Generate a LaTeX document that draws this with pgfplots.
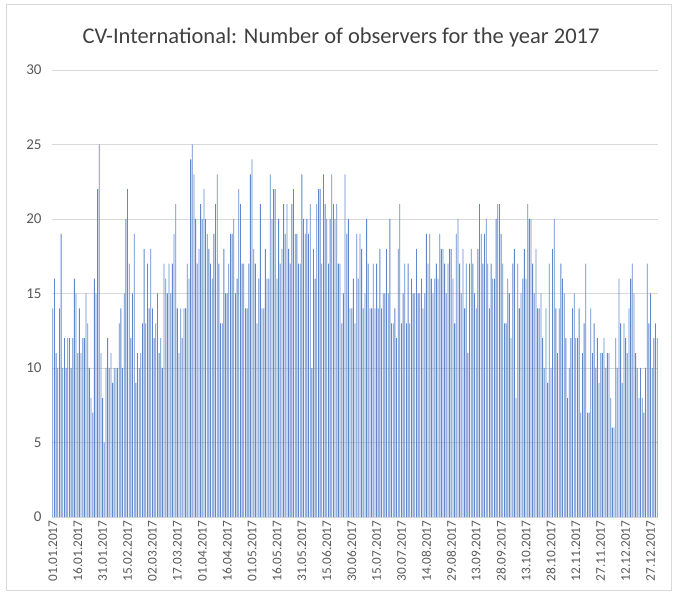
\documentclass[border=0pt]{standalone}
\usepackage{pgfplots}
\pgfplotsset{compat=1.18}
\usepackage{pgfplotstable}
\usepackage{fontspec}
\setmainfont{Carlito}
\definecolor{barblue}{HTML}{4472C4}
\definecolor{gridgray}{HTML}{D9D9D9}
\definecolor{txtgray}{HTML}{595959}
\definecolor{titlegray}{HTML}{404040}

% daily observer counts, 01.01.2017 .. 31.12.2017
\pgfplotstableread[row sep=\\]{
v\\
14\\16\\11\\10\\14\\19\\10\\12\\10\\12\\12\\10\\12\\16\\15\\11\\14\\11\\12\\12\\15\\13\\10\\8\\7\\16\\15\\22\\25\\11\\8\\5\\10\\12\\10\\11\\
9\\10\\10\\10\\13\\14\\10\\15\\20\\22\\17\\12\\15\\19\\9\\11\\10\\11\\13\\18\\13\\17\\14\\18\\14\\12\\13\\15\\11\\12\\10\\17\\16\\15\\17\\15\\
17\\19\\21\\14\\11\\14\\12\\14\\14\\17\\16\\24\\25\\23\\20\\17\\18\\21\\20\\22\\20\\19\\18\\17\\16\\19\\21\\23\\17\\13\\13\\18\\15\\15\\17\\19\\
19\\20\\15\\16\\22\\21\\17\\17\\14\\14\\17\\23\\24\\18\\17\\13\\16\\21\\14\\14\\18\\16\\16\\23\\20\\22\\22\\16\\20\\17\\18\\21\\19\\21\\18\\17\\21\\
22\\19\\19\\17\\17\\23\\20\\19\\20\\19\\21\\10\\18\\16\\21\\22\\22\\17\\23\\21\\20\\17\\20\\23\\21\\20\\21\\17\\17\\13\\15\\23\\19\\20\\14\\14\\
16\\13\\19\\16\\19\\18\\14\\15\\20\\17\\14\\14\\17\\14\\17\\14\\18\\14\\15\\15\\18\\15\\20\\13\\13\\14\\12\\18\\21\\13\\15\\17\\13\\17\\13\\16\\15\\
15\\18\\15\\15\\16\\14\\15\\19\\17\\19\\16\\15\\16\\17\\16\\19\\18\\18\\17\\15\\17\\18\\18\\16\\13\\19\\20\\17\\15\\18\\14\\17\\11\\17\\18\\17\\
15\\14\\18\\21\\19\\17\\19\\20\\17\\14\\17\\16\\16\\20\\21\\21\\19\\17\\13\\13\\16\\15\\12\\17\\18\\8\\17\\14\\15\\16\\18\\16\\21\\20\\20\\17\\
15\\18\\14\\14\\15\\12\\10\\14\\9\\17\\10\\18\\20\\14\\11\\14\\17\\16\\15\\12\\8\\10\\12\\14\\15\\12\\12\\14\\7\\11\\13\\17\\7\\7\\14\\11\\
13\\10\\12\\9\\11\\11\\12\\10\\11\\11\\8\\6\\6\\12\\10\\16\\13\\9\\13\\12\\11\\14\\16\\17\\15\\11\\10\\8\\10\\8\\7\\10\\17\\13\\15\\10\\12\\13\\12\\
}\obs

\begin{document}
\begin{tikzpicture}
\path[use as bounding box] (-52pt,-82pt) rectangle (627pt,517pt);
\draw[gridgray, line width=0.8pt] (-46pt,-73pt) rectangle (619pt,513pt);
\begin{axis}[
  at={(0,0)}, anchor=south west,
  scale only axis, width=606pt, height=447pt,
  xmin=-0.5, xmax=364.5, ymin=0, ymax=30,
  ytick={0,5,...,30},
  ymajorgrids, grid style={gridgray, line width=0.8pt},
  axis line style={draw=none},
  major tick length=0pt,
  xtick={0,15,...,360},
  xticklabels={01.01.2017,16.01.2017,31.01.2017,15.02.2017,02.03.2017,17.03.2017,
    01.04.2017,16.04.2017,01.05.2017,16.05.2017,31.05.2017,15.06.2017,30.06.2017,
    15.07.2017,30.07.2017,14.08.2017,29.08.2017,13.09.2017,28.09.2017,13.10.2017,
    28.10.2017,12.11.2017,27.11.2017,12.12.2017,27.12.2017},
  xticklabel style={rotate=90, anchor=east, font=\fontsize{13.3}{13}\selectfont, text=txtgray},
  yticklabel style={font=\fontsize{15}{15}\selectfont, text=txtgray, xshift=-7pt},
  /pgf/number format/assume math mode=true,
  title={CV-International: Number of observers for the year 2017},
  title style={at={(0.5,1)}, anchor=center, yshift=26pt, xshift=-14pt,
    font=\fontsize{22.5}{24}\selectfont, text=titlegray},
]
\addplot[ybar, bar width=0.5, fill=barblue!85, draw=none]
  table[x expr=\coordindex, y=v]{\obs};
\end{axis}
\end{tikzpicture}
\end{document}
